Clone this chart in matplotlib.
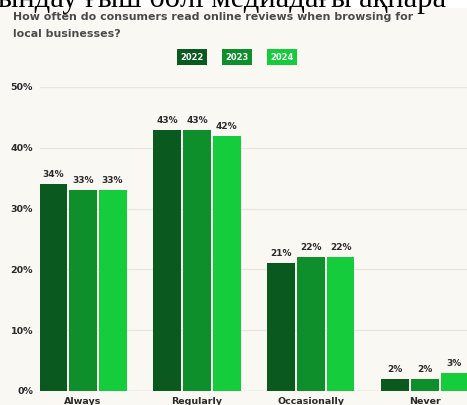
import numpy as np
import matplotlib.pyplot as plt
from matplotlib.patches import Rectangle

categories = ['Always', 'Regularly', 'Occasionally', 'Never']
years = ['2022', '2023', '2024']
v2022 = [34, 43, 21, 2]
v2023 = [33, 43, 22, 2]
v2024 = [33, 42, 22, 3]
yticks = [0, 10, 20, 30, 40, 50]

colors = ['#0a5a1f', '#0f8f2c', '#15cc3d']
bg = '#faf8f3'

fig = plt.figure(figsize=(4.67, 4.05), dpi=100, facecolor=bg)
W, H = 467, 405

# white strip with cut-off text from page above
fig.patches.append(Rectangle((0, 1 - 8 / H), 1, 8 / H, transform=fig.transFigure,
                             facecolor='white', edgecolor='none', zorder=0))
fig.text(-0.005, 1 - 6.5 / H, 'ындау ғыш бөлі медиадағы ақпара', family='Liberation Serif',
         fontsize=22, color='black', va='baseline', ha='left')

ax = fig.add_axes([40 / W, 14 / H, 1 - 40 / W, (391 - 87) / H])
ax.set_facecolor(bg)

x = np.arange(len(categories))
w = 0.245
offsets = [-0.26, 0, 0.26]
for vals, off, c in zip([v2022, v2023, v2024], offsets, colors):
    bars = ax.bar(x + off, vals, w, color=c, zorder=3)
    for b, v in zip(bars, vals):
        ax.text(b.get_x() + b.get_width() / 2, v + 0.8, f'{v}%', ha='center', va='bottom',
                fontsize=6.5, fontweight='bold', color='#2a2a2a', zorder=4)

ax.set_xlim(-0.377, 3.37)
ax.set_ylim(0, 50)
ax.set_yticks(yticks)
ax.set_yticklabels([f'{t}%' for t in yticks])
ax.set_xticks(x)
ax.set_xticklabels(categories)
for s in ax.spines.values():
    s.set_visible(False)
ax.grid(axis='y', color='#e9e6e0', linewidth=0.9, zorder=0)
ax.axhline(0, color='#dcd9d2', linewidth=1, zorder=2)
ax.tick_params(axis='both', length=0, labelsize=6.8, labelcolor='#2a2a2a')
ax.tick_params(axis='y', pad=5)
ax.tick_params(axis='x', pad=4.5)
for lab in ax.get_xticklabels() + ax.get_yticklabels():
    lab.set_fontweight('bold')

fig.text(13 / W, 1 - 17 / H, 'How often do consumers read online reviews when browsing for',
         fontsize=7.9, fontweight='bold', color='#4a4a4a', va='center')
fig.text(13 / W, 1 - 34 / H, 'local businesses?',
         fontsize=7.9, fontweight='bold', color='#4a4a4a', va='center')

# legend boxes
for yr, c, cx in zip(years, colors, [192, 237, 282]):
    fig.text(cx / W, 1 - 57 / H, yr, ha='center', va='center', fontsize=6, fontweight='bold',
             color='white', bbox=dict(boxstyle='square,pad=0.45', facecolor=c, edgecolor='none'))

fig.savefig('out.png', dpi=100, facecolor=bg)
